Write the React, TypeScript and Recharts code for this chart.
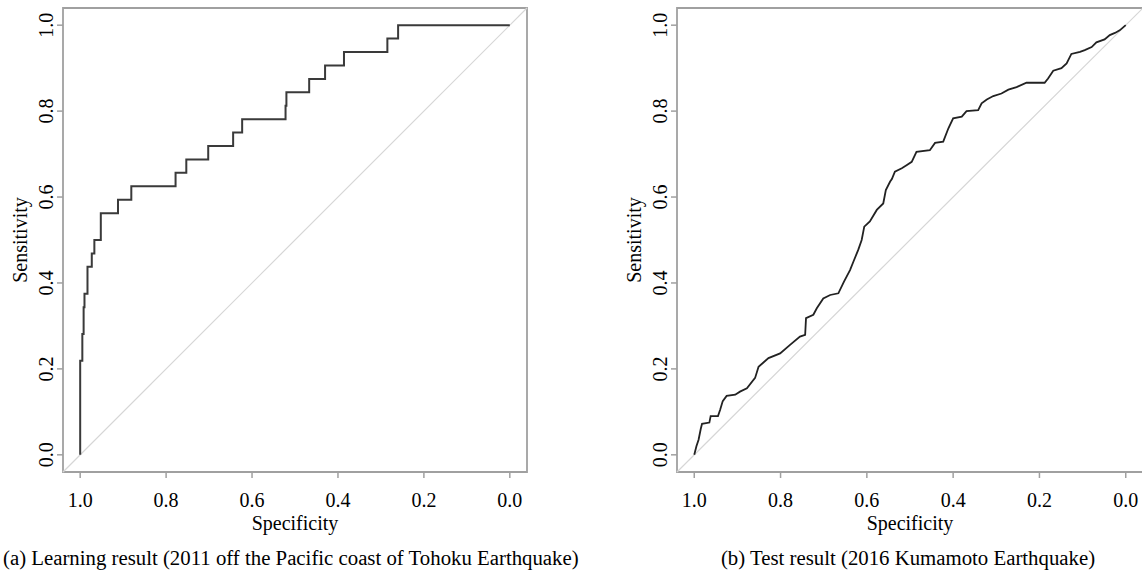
import React from 'react';
import { LineChart, Line, XAxis, YAxis, ReferenceArea, ReferenceLine } from 'recharts';

// ROC curve (a): learning set, 32 positives -> steps of 1/32
const learnSpec = [1.0, 1.0, 0.995, 0.992, 0.99, 0.983, 0.973, 0.967, 0.952, 0.912, 0.881, 0.778, 0.753, 0.702, 0.644, 0.623, 0.522, 0.52, 0.467, 0.43, 0.386, 0.285, 0.26, 0.0];
const learnSens = [0, 0.21875, 0.28125, 0.34375, 0.375, 0.4375, 0.46875, 0.5, 0.5625, 0.59375, 0.625, 0.65625, 0.6875, 0.71875, 0.75, 0.78125, 0.8125, 0.84375, 0.875, 0.90625, 0.9375, 0.96875, 1.0, 1.0];

// ROC curve (b): test set
const testSpec = [
  1.0, 0.995, 0.99, 0.985, 0.982, 0.965, 0.962, 0.945, 0.94, 0.934, 0.925, 0.905, 0.894, 0.878, 0.859, 0.851,
  0.828, 0.801, 0.778, 0.755, 0.743, 0.741, 0.724, 0.716, 0.701, 0.685, 0.666, 0.653, 0.639, 0.631, 0.62, 0.612,
  0.606, 0.593, 0.577, 0.562, 0.556, 0.546, 0.542, 0.535, 0.519, 0.508, 0.496, 0.485, 0.454, 0.442, 0.423, 0.411,
  0.4, 0.38, 0.369, 0.342, 0.334, 0.322, 0.307, 0.288, 0.272, 0.253, 0.23, 0.188, 0.18, 0.168, 0.149, 0.137,
  0.126, 0.106, 0.095, 0.079, 0.068, 0.049, 0.037, 0.025, 0.014, 0.0,
];
const testSens = [
  0, 0.02, 0.035, 0.06, 0.072, 0.075, 0.09, 0.09, 0.105, 0.125, 0.137, 0.14, 0.147, 0.155, 0.179, 0.205,
  0.225, 0.236, 0.256, 0.275, 0.279, 0.318, 0.326, 0.341, 0.364, 0.372, 0.376, 0.403, 0.43, 0.45, 0.477, 0.5,
  0.531, 0.543, 0.57, 0.585, 0.616, 0.636, 0.642, 0.659, 0.667, 0.674, 0.682, 0.705, 0.709, 0.726, 0.729, 0.76,
  0.783, 0.787, 0.8, 0.802, 0.818, 0.827, 0.835, 0.841, 0.85, 0.856, 0.866, 0.866, 0.876, 0.894, 0.9, 0.911,
  0.933, 0.938, 0.942, 0.949, 0.96, 0.967, 0.977, 0.982, 0.988, 1.0,
];

const ticks = [0, 0.2, 0.4, 0.6, 0.8, 1.0];
const DOMAIN: [number, number] = [-0.04, 1.04];

const FONT = "'Liberation Serif', 'DejaVu Serif', serif";
const TXT: React.CSSProperties = { fontFamily: FONT, fontSize: 20, fill: '#000' };
const CAP: React.CSSProperties = { ...TXT, fontSize: 20.8 };
const BOX = '#a0a0a0';
const TOP = 8;
const BOTTOM = 472;

const toRows = (spec: number[], sens: number[]) => spec.map((s, i) => ({ spec: s, sens: sens[i] }));

const XTick = ({ x, payload }: any) => (
  <text x={x} y={BOTTOM + 35} textAnchor="middle" style={TXT}>
    {Number(payload.value).toFixed(1)}
  </text>
);

const YTick = ({ y, payload, bx }: any) => (
  <text x={bx} y={y} transform={`rotate(-90, ${bx}, ${y})`} textAnchor="middle" style={TXT}>
    {Number(payload.value).toFixed(1)}
  </text>
);

interface RocPanelProps {
  left: number;
  width: number;
  yAxisWidth: number;
  marginRight: number;
  spec: number[];
  sens: number[];
  step: boolean;
  stroke: string;
  strokeWidth: number;
  caption: string;
  captionX: number;
  captionAnchor: 'start' | 'middle';
}

function RocPanel(p: RocPanelProps) {
  const boxLeft = p.left + p.yAxisWidth;
  const boxRight = p.left + p.width - p.marginRight;
  const midX = (boxLeft + boxRight) / 2 - p.left;
  const midY = (TOP + BOTTOM) / 2;
  const titleX = p.yAxisWidth - 36;

  return (
    <div style={{ position: 'absolute', left: p.left, top: 0 }}>
      <LineChart
        width={p.width}
        height={574}
        data={toRows(p.spec, p.sens)}
        margin={{ top: TOP, right: p.marginRight, bottom: 0, left: 0 }}
      >
        <XAxis
          dataKey="spec"
          type="number"
          domain={DOMAIN}
          reversed
          ticks={ticks}
          height={574 - BOTTOM}
          axisLine={false}
          tickSize={6}
          tickLine={{ stroke: BOX, strokeWidth: 1.5 }}
          tick={<XTick />}
          label={() => (
            <g>
              <text x={midX} y={530} textAnchor="middle" style={TXT}>Specificity</text>
              <text x={p.captionX - p.left} y={565} textAnchor={p.captionAnchor} style={CAP}>{p.caption}</text>
            </g>
          )}
        />
        <YAxis
          dataKey="sens"
          type="number"
          domain={DOMAIN}
          ticks={ticks}
          width={p.yAxisWidth}
          axisLine={false}
          tickSize={6}
          tickLine={{ stroke: BOX, strokeWidth: 1.5 }}
          tick={(t: any) => <YTick {...t} bx={p.yAxisWidth - 10} />}
          label={() => (
            <text
              x={titleX}
              y={midY}
              transform={`rotate(-90, ${titleX}, ${midY})`}
              textAnchor="middle"
              style={TXT}
            >
              Sensitivity
            </text>
          )}
        />
        <ReferenceArea x1={DOMAIN[0]} x2={DOMAIN[1]} y1={DOMAIN[0]} y2={DOMAIN[1]} fill="none" stroke={BOX} strokeWidth={1.8} fillOpacity={0} />
        <ReferenceLine
          segment={[{ x: DOMAIN[1], y: DOMAIN[0] }, { x: DOMAIN[0], y: DOMAIN[1] }]}
          stroke="#d6d6d6"
          strokeWidth={1.2}
        />
        <Line
          dataKey="sens"
          type={p.step ? 'stepAfter' : 'linear'}
          stroke={p.stroke}
          strokeWidth={p.strokeWidth}
          dot={false}
          isAnimationActive={false}
        />
      </LineChart>
    </div>
  );
}

export default function App() {
  return (
    <div style={{ position: 'absolute', left: 0, top: 0, width: 1142, height: 574, overflow: 'hidden', background: '#fff' }}>
      <RocPanel
        left={0}
        width={600}
        yAxisWidth={63}
        marginRight={73}
        spec={learnSpec}
        sens={learnSens}
        step
        stroke="#3a3a3a"
        strokeWidth={2}
        caption="(a) Learning result (2011 off the Pacific coast of Tohoku Earthquake)"
        captionX={3}
        captionAnchor="start"
      />
      <RocPanel
        left={570}
        width={574}
        yAxisWidth={107}
        marginRight={1}
        spec={testSpec}
        sens={testSens}
        step={false}
        stroke="#222"
        strokeWidth={1.8}
        caption="(b) Test result (2016 Kumamoto Earthquake)"
        captionX={908}
        captionAnchor="middle"
      />
    </div>
  );
}
